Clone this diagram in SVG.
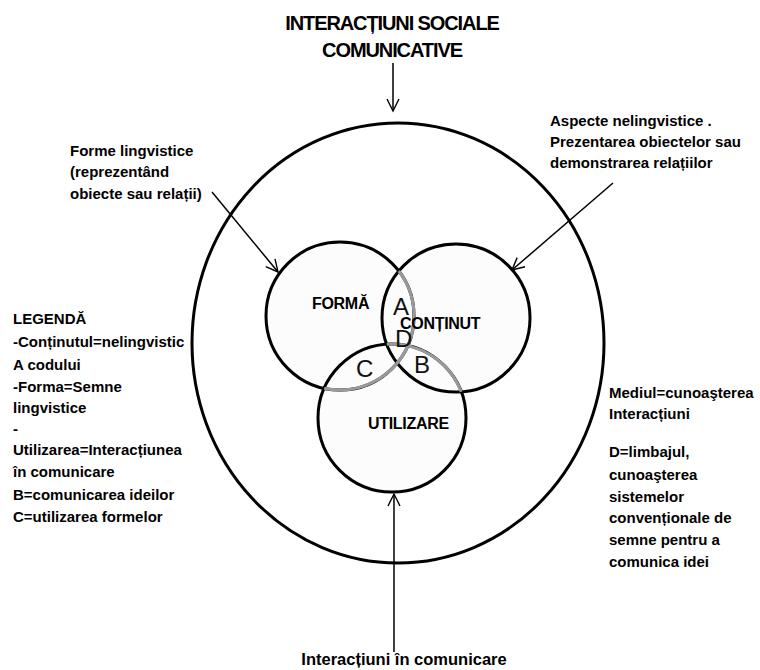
<svg xmlns="http://www.w3.org/2000/svg" width="760" height="670" viewBox="0 0 760 670">
<defs>
<marker id="arr" markerUnits="userSpaceOnUse" markerWidth="14" markerHeight="14" refX="12" refY="6" orient="auto" overflow="visible">
<path d="M0,0 L12,6 L0,12" fill="none" stroke="#000" stroke-width="1.4"/>
</marker>
</defs>
<style>
text{font-family:"Liberation Sans",Arial,sans-serif;fill:#000}
.b{font-weight:bold;font-size:15px}
.t{font-weight:bold;font-size:20px;letter-spacing:-1.1px}
.n{font-weight:bold;font-size:16px;letter-spacing:-0.3px}
.l{font-size:24px;fill:#111}
.fillc{fill:#fcfcfc;stroke:none}
.ring{fill:none;stroke:#000;stroke-width:3}
.grey{fill:none;stroke:#9a9a9a;stroke-width:3}
.con{stroke:#000;stroke-width:1.5;fill:none;marker-end:url(#arr)}
</style>
<rect width="760" height="670" fill="#fff"/>
<g id="mediu">
<ellipse cx="398" cy="343" rx="206" ry="220" fill="#fff" stroke="#000" stroke-width="3"/>
</g>
<g id="inner-fill">
<circle class="fillc" cx="340" cy="316" r="74"/>
<circle class="fillc" cx="456" cy="318" r="74"/>
<circle class="fillc" cx="392" cy="418" r="74"/>
</g>
<g id="forma">
<circle class="ring" cx="340" cy="316" r="74"/>
<text class="n" x="312" y="309">FORMĂ</text>
</g>
<g id="continut">
<circle class="ring" cx="456" cy="318" r="74"/>
</g>
<g id="utilizare">
<circle class="ring" cx="392" cy="418" r="74"/>
</g>
<g id="overlaps">
<path class="grey" d="M398.8 271 A74 74 0 0 1 397.2 363"/>
<path class="grey" d="M407.8 345.7 A74 74 0 0 1 324.2 388.3"/>
<path class="grey" d="M386.8 344.2 A74 74 0 0 1 461.2 391.8"/>
</g>
<g id="labels-inner">
<text class="n" x="400" y="329">CONȚINUT</text>
<text class="n" x="368" y="429">UTILIZARE</text>
<text class="l" x="393" y="315">A</text>
<text class="l" x="395" y="347">D</text>
<text class="l" x="356" y="377">C</text>
<text class="l" x="414" y="373">B</text>
</g>
<g id="connectors">
<line class="con" x1="393" y1="63" x2="393" y2="111"/>
<line class="con" x1="212" y1="192" x2="278" y2="272"/>
<line class="con" x1="613" y1="183" x2="512" y2="270"/>
<line class="con" x1="394" y1="652" x2="394" y2="494"/>
</g>
<g id="title">
<text class="t" x="392" y="30" text-anchor="middle">INTERACȚIUNI SOCIALE</text>
<text class="t" x="392" y="57" text-anchor="middle">COMUNICATIVE</text>
</g>
<g id="forme-lingvistice">
<text class="b" x="70" y="156">Forme lingvistice</text>
<text class="b" x="70" y="177">(reprezentând</text>
<text class="b" x="70" y="199">obiecte sau relații)</text>
</g>
<g id="aspecte">
<text class="b" x="550" y="126">Aspecte nelingvistice .</text>
<text class="b" x="550" y="147">Prezentarea obiectelor sau</text>
<text class="b" x="550" y="168">demonstrarea relațiilor</text>
</g>
<g id="legenda">
<text class="b" x="13" y="324">LEGENDĂ</text>
<text class="b" x="13" y="347">-Conținutul=nelingvistic</text>
<text class="b" x="13" y="370">A codului</text>
<text class="b" x="13" y="392">-Forma=Semne</text>
<text class="b" x="13" y="413">lingvistice</text>
<text class="b" x="13" y="434">-</text>
<text class="b" x="13" y="455">Utilizarea=Interacțiunea</text>
<text class="b" x="13" y="477">în comunicare</text>
<text class="b" x="13" y="500">B=comunicarea ideilor</text>
<text class="b" x="13" y="522">C=utilizarea formelor</text>
</g>
<g id="mediul-text">
<text class="b" x="609" y="398">Mediul=cunoaşterea</text>
<text class="b" x="609" y="419">Interacțiuni</text>
<text class="b" x="609" y="457">D=limbajul,</text>
<text class="b" x="609" y="480">cunoaşterea</text>
<text class="b" x="609" y="502">sistemelor</text>
<text class="b" x="609" y="523">convenționale  de</text>
<text class="b" x="609" y="545">semne pentru a</text>
<text class="b" x="609" y="567">comunica idei</text>
</g>
<g id="interactiuni-comunicare">
<text class="b" x="404" y="665" text-anchor="middle" style="font-size:16.5px">Interacțiuni în comunicare</text>
</g>
</svg>
